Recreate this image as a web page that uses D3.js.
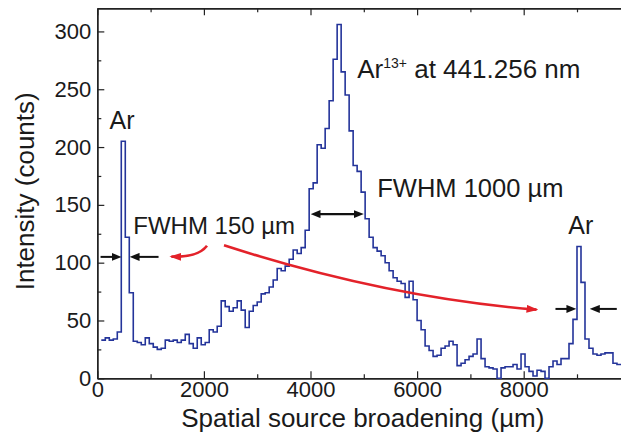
<!DOCTYPE html>
<html><head><meta charset="utf-8">
<script src="https://cdn.jsdelivr.net/npm/d3@7/dist/d3.min.js"></script>
<style>
html,body{margin:0;padding:0;background:#fff;}
svg{display:block;font-family:"Liberation Sans",Arial,Helvetica,sans-serif;}
</style></head><body>
<svg id="chart" width="621" height="439"></svg>
<script>
// Source-position histogram: 75 µm bins, first bin starts at 75 µm
const binStart = 75;
const binWidth = 75;
const counts = [
  33, 35, 33, 34, 40, 205, 122, 74, 32, 31,
  29, 35, 30, 27, 25, 26, 33, 32, 33, 31,
  33, 38, 30, 26, 35, 29, 31, 42, 40, 45,
  67, 62, 58, 61, 67, 59, 44, 58, 63, 66,
  73, 74, 79, 85, 95, 93, 97, 103, 111, 108,
  113, 128, 164, 169, 202, 199, 216, 240, 276, 306,
  265, 245, 214, 184, 179, 161, 138, 122, 113, 110,
  106, 100, 93, 87, 84, 82, 70, 84, 68, 50,
  42, 28, 24, 19, 20, 26, 28, 32, 29, 11,
  13, 16, 19, 21, 34, 17, 10, 9, 8, 0,
  9, 10, 10, 12, 8, 21, 10, 6, 2, 7,
  6, 0, 10, 15, 12, 17, 17, 30, 51, 114,
  83, 34, 26, 21, 20, 21, 22, 22, 13, 12,
  12
];

// Axis ticks
const xTicks = [0, 2000, 4000, 6000, 8000];
const xMinorTicks = [1000, 3000, 5000, 7000, 9000];
const yTicks = [0, 50, 100, 150, 200, 250, 300];
const yMinorTicks = [25, 75, 125, 175, 225, 275];

// Measured line widths (µm): [left edge, right edge, count level]
const fwhmLeftAr = [455, 605, 105];
const fwhmMain = [4000, 5000, 142];
const fwhmRightAr = [8990, 9240, 60];

const svg = d3.select("#chart");
const margin = {left: 97.3, top: 8.3};
const plotW = 533, plotH = 370;

const x = d3.scaleLinear().domain([0, 10000]).range([0, plotW]);
const y = d3.scaleLinear().domain([0, 320]).range([plotH, 0]);

const g = svg.append("g").attr("transform", `translate(${margin.left},${margin.top})`);

const axisColor = "#222";
const fmt = d3.format("d");

// Major / minor ticks, all pointing into the plot
function styleAxis(sel) {
  sel.selectAll("path.domain").attr("stroke", axisColor).attr("stroke-width", 1.4);
  sel.selectAll(".tick line").attr("stroke", axisColor).attr("stroke-width", 1.2);
  sel.selectAll("text").attr("fill", "#1a1a1a").attr("font-size", 22)
     .attr("font-family", "Liberation Sans, Arial, sans-serif");
}

g.append("g").attr("transform", `translate(0,${plotH})`)
  .call(d3.axisBottom(x).tickValues(xTicks).tickFormat(fmt).tickSizeInner(-7).tickSizeOuter(0).tickPadding(3.5))
  .call(styleAxis);
g.append("g").attr("transform", `translate(0,${plotH})`)
  .call(d3.axisBottom(x).tickValues(xMinorTicks).tickFormat("").tickSizeInner(-4).tickSizeOuter(0))
  .call(styleAxis);
g.append("g")
  .call(d3.axisTop(x).tickValues(xTicks).tickFormat("").tickSizeInner(-7).tickSizeOuter(0))
  .call(styleAxis);
g.append("g")
  .call(d3.axisTop(x).tickValues(xMinorTicks).tickFormat("").tickSizeInner(-4).tickSizeOuter(0))
  .call(styleAxis);

g.append("g")
  .call(d3.axisLeft(y).tickValues(yTicks).tickFormat(fmt).tickSizeInner(-7).tickSizeOuter(0).tickPadding(6))
  .call(styleAxis);
g.append("g")
  .call(d3.axisLeft(y).tickValues(yMinorTicks).tickFormat("").tickSizeInner(-4).tickSizeOuter(0))
  .call(styleAxis);
g.append("g").attr("transform", `translate(${plotW},0)`)
  .call(d3.axisRight(y).tickValues(yTicks).tickFormat("").tickSizeInner(-7).tickSizeOuter(0))
  .call(styleAxis);

// Axis titles
svg.append("text")
  .attr("x", margin.left + plotW / 2 - 1).attr("y", 426.5)
  .attr("text-anchor", "middle").attr("font-size", 26).attr("fill", "#1a1a1a")
  .text("Spatial source broadening (µm)");
svg.append("text")
  .attr("transform", `translate(34,${margin.top + plotH / 2 - 2}) rotate(-90)`)
  .attr("text-anchor", "middle").attr("font-size", 26).attr("fill", "#1a1a1a")
  .text("Intensity (counts)");

// Histogram as a step line
const pts = counts.map((c, i) => [binStart + i * binWidth, c]);
pts.push([binStart + counts.length * binWidth, counts[counts.length - 1]]);
const line = d3.line().x(d => x(d[0])).y(d => y(d[1])).curve(d3.curveStepAfter);
g.append("path").datum(pts)
  .attr("d", line).attr("fill", "none")
  .attr("stroke", "#24349a").attr("stroke-width", 1.6);

// Arrowhead markers
const defs = svg.append("defs");
defs.append("marker").attr("id", "headBlack")
  .attr("viewBox", "0 0 10 8").attr("refX", 2).attr("refY", 4)
  .attr("markerWidth", 10).attr("markerHeight", 8)
  .attr("markerUnits", "userSpaceOnUse").attr("orient", "auto-start-reverse")
  .append("path").attr("d", "M0,0L10,4L0,8Z").attr("fill", "#111");
defs.append("marker").attr("id", "headRed")
  .attr("viewBox", "0 0 12 8").attr("refX", 10).attr("refY", 4)
  .attr("markerWidth", 12).attr("markerHeight", 8)
  .attr("markerUnits", "userSpaceOnUse").attr("orient", "auto")
  .append("path").attr("d", "M0,0L12,4L0,8Z").attr("fill", "#e3222a");

const ann = g.append("g");

// Pair of arrows pointing inward at the two edges of a narrow line
function outsideArrows(span, lenL, lenR) {
  const xl = x(span[0]), xr = x(span[1]), yy = y(span[2]);
  ann.append("line").attr("x1", xl - lenL).attr("x2", xl - 8).attr("y1", yy).attr("y2", yy)
    .attr("stroke", "#111").attr("stroke-width", 2).attr("marker-end", "url(#headBlack)");
  ann.append("line").attr("x1", xr + lenR).attr("x2", xr + 8).attr("y1", yy).attr("y2", yy)
    .attr("stroke", "#111").attr("stroke-width", 2).attr("marker-end", "url(#headBlack)");
}
outsideArrows(fwhmLeftAr, 21, 29);
outsideArrows(fwhmRightAr, 21, 27);

// Double arrow spanning the broad line
ann.append("line")
  .attr("x1", x(fwhmMain[0]) + 8).attr("x2", x(fwhmMain[1]) - 8)
  .attr("y1", y(fwhmMain[2])).attr("y2", y(fwhmMain[2]))
  .attr("stroke", "#111").attr("stroke-width", 2.2)
  .attr("marker-start", "url(#headBlack)").attr("marker-end", "url(#headBlack)");

// Red pointers from the 150 µm label to both narrow Ar lines
function redCurve(p0, c, p1) {
  const p = d3.path();
  p.moveTo(x(p0[0]), y(p0[1]));
  p.quadraticCurveTo(x(c[0]), y(c[1]), x(p1[0]), y(p1[1]));
  ann.append("path").attr("d", p.toString()).attr("fill", "none")
    .attr("stroke", "#e3222a").attr("stroke-width", 2.6)
    .attr("marker-end", "url(#headRed)");
}
redCurve([2058, 114.7], [1889, 104.5], [1390, 105.2]);
redCurve([2377, 115], [5415, 69.8], [8240, 59.4]);

// Text labels
const txt = (s, xv, yv, anchor, size) => ann.append("text")
  .attr("x", x(xv)).attr("y", y(yv)).attr("text-anchor", anchor)
  .attr("font-size", size).attr("fill", "#1a1a1a").text(s);
txt("Ar", 463, 216, "middle", 25);
txt("Ar", 9070, 125, "middle", 25);
txt("FWHM 150 µm", 675, 125, "start", 24);
txt("FWHM 1000 µm", 5253, 157, "start", 25.5);

const ion = ann.append("text").attr("x", x(4877)).attr("y", y(260))
  .attr("font-size", 26).attr("fill", "#1a1a1a");
ion.append("tspan").text("Ar");
ion.append("tspan").attr("dy", -10).attr("font-size", 14).text("13+");
ion.append("tspan").attr("dy", 10).text(" at 441.256 nm");
</script>
</body></html>
